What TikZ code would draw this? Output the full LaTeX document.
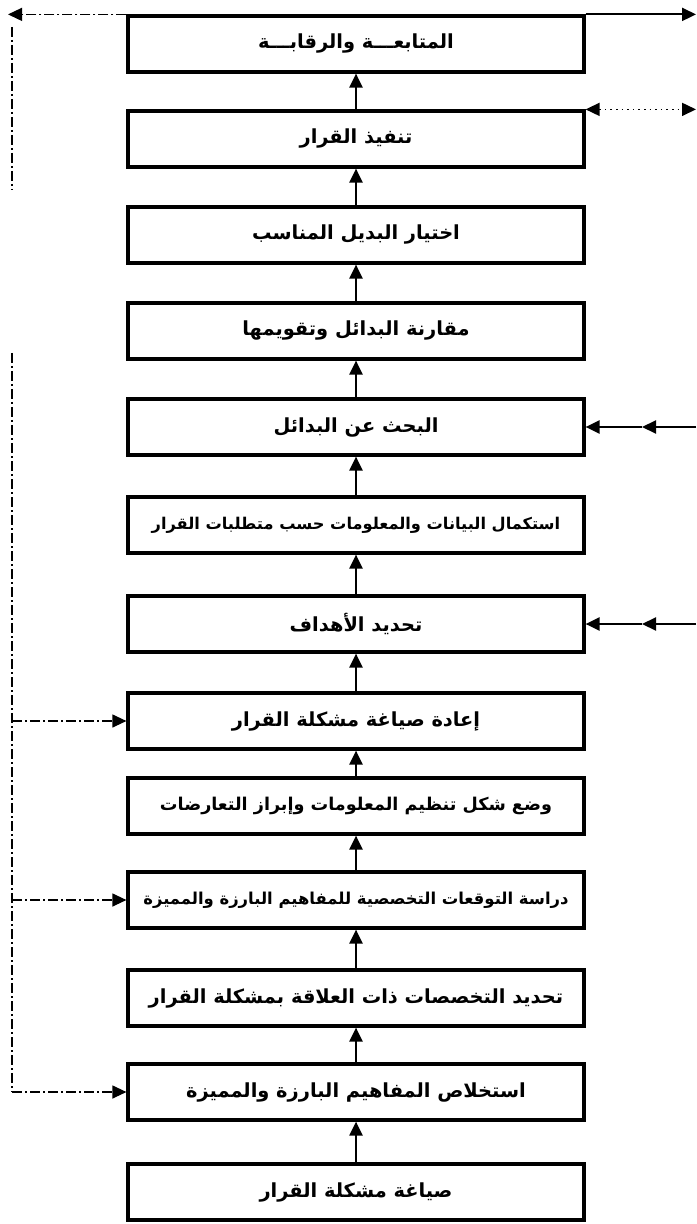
\documentclass[tikz,border=0pt]{standalone}
\usepackage{fontspec}
\newfontfamily\arabicfont[Script=Arabic]{DejaVu Sans}
\TeXXeTstate=1
\usetikzlibrary{arrows.meta}
\newcommand{\artext}[1]{\beginR #1\endR}

\begin{document}
\begin{tikzpicture}[x=0.5pt,y=-0.5pt,
box/.style={draw,line width=1.6pt,minimum width=228pt,minimum height=28pt,inner sep=0pt,
  font=\arabicfont\bfseries\fontsize{#1}{11}\selectfont},
box/.default=9.7,
up/.style={line width=1.1pt,-{Triangle[length=7pt,width=6.5pt]}},
feed/.style={line width=0.6pt,dash pattern=on 5pt off 1.5pt on 1pt off 1.5pt},
tip/.style={-{Triangle[length=7pt,width=6.5pt]}}]
\useasboundingbox (0,0) rectangle (696,1224);
%boxes
\node[box] (monitor) at (356,44) {\artext{المتابعـــة والرقابـــة}};
\node[box] (execute) at (356,139) {\artext{تنفيذ القرار}};
\node[box] (choose) at (356,235) {\artext{اختيار البديل المناسب}};
\node[box] (compare) at (356,331) {\artext{مقارنة البدائل وتقويمها}};
\node[box] (search) at (356,427) {\artext{البحث عن البدائل}};
\node[box=8.1] (complete) at (356,525) {\artext{استكمال البيانات والمعلومات حسب متطلبات القرار}};
\node[box] (goals) at (356,624) {\artext{تحديد الأهداف}};
\node[box] (reform) at (356,721) {\artext{إعادة صياغة مشكلة القرار}};
\node[box=8.8] (organize) at (356,806) {\artext{وضع شكل تنظيم المعلومات وإبراز التعارضات}};
\node[box=8.2] (study) at (356,900) {\artext{دراسة التوقعات التخصصية للمفاهيم البارزة والمميزة}};
\node[box] (special) at (356,998) {\artext{تحديد التخصصات ذات العلاقة بمشكلة القرار}};
\node[box] (extract) at (356,1092) {\artext{استخلاص المفاهيم البارزة والمميزة}};
\node[box] (formulate) at (356,1192) {\artext{صياغة مشكلة القرار}};
%upward flow
\draw[up] (formulate) -- (extract);
\draw[up] (extract) -- (special);
\draw[up] (special) -- (study);
\draw[up] (study) -- (organize);
\draw[up] (organize) -- (reform);
\draw[up] (reform) -- (goals);
\draw[up] (goals) -- (complete);
\draw[up] (complete) -- (search);
\draw[up] (search) -- (compare);
\draw[up] (compare) -- (choose);
\draw[up] (choose) -- (execute);
\draw[up] (execute) -- (monitor);
%top line
\coordinate (topleft) at (8,16);
\coordinate (topright) at (696,16);
\draw[feed,tip] (monitor.north west) -- (monitor.north west -| topleft);
\draw[line width=1.1pt,tip] (monitor.north east) -- (monitor.north east -| topright);
\coordinate (execright) at (696,111);
\draw[line width=0.8pt,dotted,{Triangle[length=7pt,width=6.5pt]}-{Triangle[length=7pt,width=6.5pt]}] (execute.north east) -- (execute.north east -| execright);
%right inputs
\coordinate (searchout) at (696,427);
\coordinate (searchmid) at (642,427);
\draw[line width=1.1pt,tip] (searchout) -- (searchmid);
\draw[line width=1.1pt,tip] (searchmid) -- (search);
\coordinate (goalsout) at (696,624);
\coordinate (goalsmid) at (642,624);
\draw[line width=1.1pt,tip] (goalsout) -- (goalsmid);
\draw[line width=1.1pt,tip] (goalsmid) -- (goals);
%left feedback
\coordinate (lefttop) at (12,27);
\coordinate (leftgapa) at (12,190);
\coordinate (leftgapb) at (12,353);
\coordinate (leftend) at (12,1092);
\draw[feed] (lefttop) -- (leftgapa);
\draw[feed] (leftgapb) -- (leftend);
\coordinate (leftreform) at (12,721);
\coordinate (leftstudy) at (12,900);
\draw[feed,tip] (leftreform) -- (reform);
\draw[feed,tip] (leftstudy) -- (study);
\draw[feed,tip] (leftend) -- (extract);
\end{tikzpicture}
\end{document}
